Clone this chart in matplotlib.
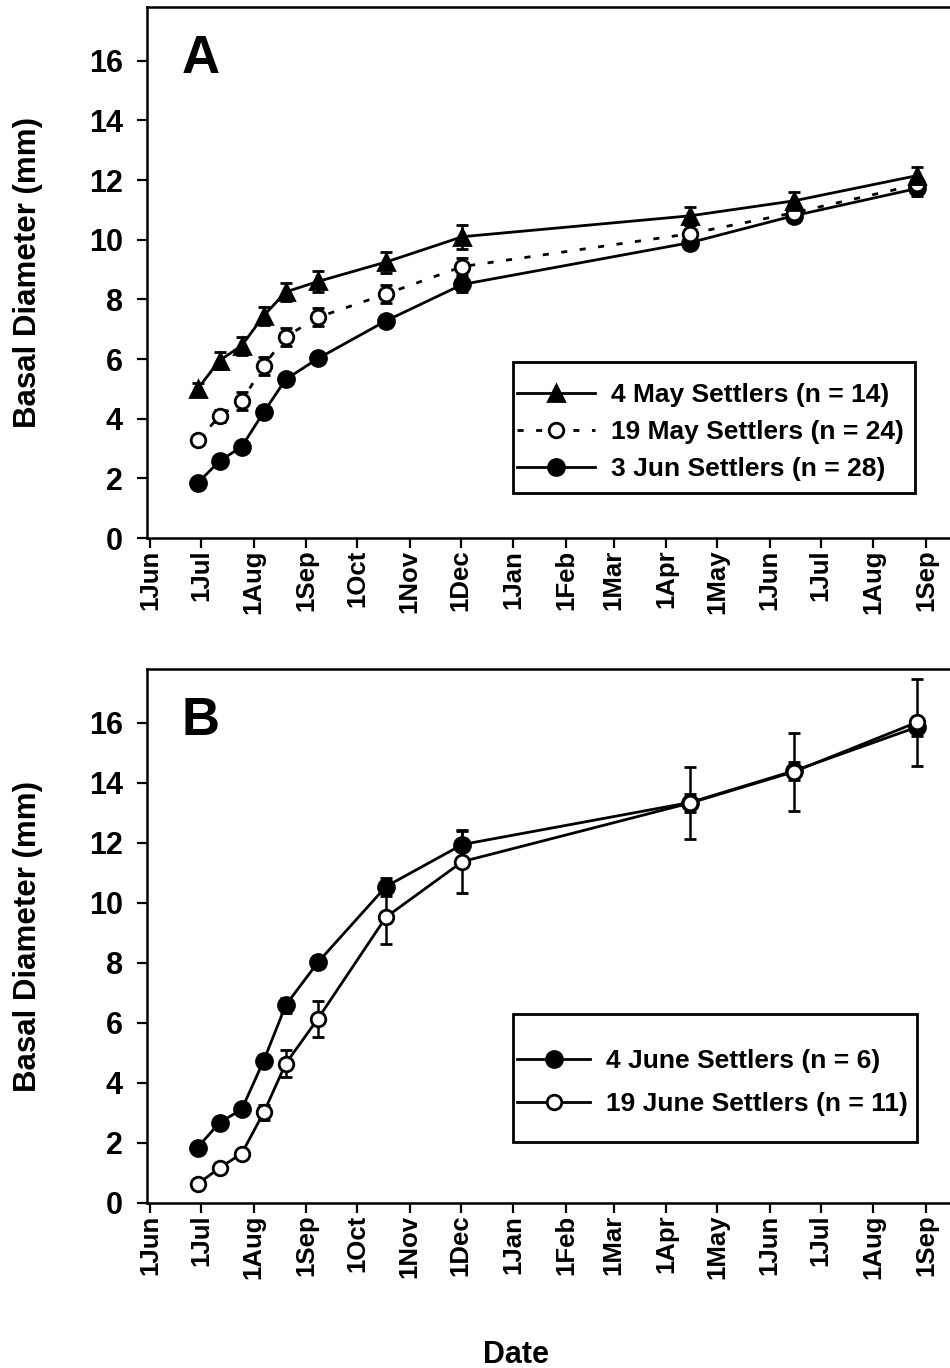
import datetime as dt

import matplotlib as mpl
import matplotlib.pyplot as plt
from matplotlib.lines import Line2D
from matplotlib.patches import Rectangle

mpl.rcParams.update(
    {
        "font.family": ["Liberation Sans", "DejaVu Sans"],
        "font.weight": "bold",
        "axes.linewidth": 1.8,
        "xtick.major.width": 1.6,
        "ytick.major.width": 1.6,
        "xtick.major.size": 7,
        "ytick.major.size": 7,
    }
)

# sampling dates (season 1 = 2001, season 2 = 2002)
DATES = ["2001-06-29", "2001-07-12", "2001-07-25", "2001-08-07", "2001-08-20", "2001-09-08",
         "2001-10-18", "2001-12-02", "2002-04-15", "2002-06-15", "2002-08-27"]

# panel A
MAY4_MEAN = [5.0, 5.95, 6.45, 7.45, 8.25, 8.6, 9.25, 10.1, 10.8, 11.3, 12.15]
MAY4_ERR = [0.2, 0.3, 0.3, 0.3, 0.3, 0.35, 0.35, 0.4, 0.3, 0.3, 0.3]
MAY19_MEAN = [3.28, 4.08, 4.58, 5.78, 6.75, 7.4, 8.18, 9.1, 10.2, 10.9, 11.85]
MAY19_ERR = [0.15, 0.2, 0.3, 0.3, 0.3, 0.3, 0.3, 0.3, 0.3, 0.2, 0.2]
JUN3_MEAN = [1.84, 2.58, 3.06, 4.22, 5.32, 6.02, 7.28, 8.5, 9.9, 10.8, 11.72]
JUN3_ERR = [0.1, 0.1, 0.1, 0.15, 0.15, 0.15, 0.2, 0.25, 0.2, 0.2, 0.25]

# panel B
JUNE4_MEAN = [1.85, 2.68, 3.12, 4.75, 6.6, 8.03, 10.55, 11.95, 13.35, 14.4, 15.87]
JUNE4_ERR = [0.1, 0.1, 0.15, 0.2, 0.25, 0.2, 0.3, 0.45, 0.3, 0.3, 0.3]
JUNE19_MEAN = [0.63, 1.17, 1.65, 3.02, 4.65, 6.15, 9.53, 11.38, 13.33, 14.37, 16.03]
JUNE19_ERR = [0.05, 0.1, 0.1, 0.25, 0.45, 0.6, 0.9, 1.05, 1.2, 1.3, 1.45]

LEGEND_A = ["4 May Settlers (n = 14)", "19 May Settlers (n = 24)", "3 Jun Settlers (n = 28)"]
LEGEND_B = ["4 June Settlers (n = 6)", "19 June Settlers (n = 11)"]

TICK_MONTHS = ["2001-06", "2001-07", "2001-08", "2001-09", "2001-10", "2001-11", "2001-12",
               "2002-01", "2002-02", "2002-03", "2002-04", "2002-05", "2002-06", "2002-07",
               "2002-08", "2002-09"]

x = [dt.datetime.strptime(d, "%Y-%m-%d") for d in DATES]
ticks = [dt.datetime.strptime(m + "-01", "%Y-%m-%d") for m in TICK_MONTHS]
tick_labels = ["1" + t.strftime("%b") for t in ticks]

W, H = 950, 1368
fig = plt.figure(figsize=(W / 100, H / 100), dpi=100)


def px_axes(left, top, right, bottom):
    return fig.add_axes([left / W, 1 - bottom / H, (right - left) / W, (bottom - top) / H])


XLIM = (dt.datetime(2001, 5, 30), dt.datetime(2002, 9, 22))
YLIM = (0, 17.8)

ax_a = px_axes(146.6, 7, 961.6, 538)
ax_b = px_axes(146.6, 669, 961.6, 1203)

common = dict(color="black", linewidth=2.0, elinewidth=1.8, capsize=4.5, capthick=1.8,
              markeredgecolor="black", markeredgewidth=2.0)
DOTS = (2.2, 4.5)

STYLE_MAY4 = dict(marker="^", markersize=11, markerfacecolor="black")
STYLE_MAY19 = dict(marker="o", markersize=10.5, markerfacecolor="white", dashes=DOTS)
STYLE_FILLED = dict(marker="o", markersize=11.5, markerfacecolor="black")
STYLE_OPEN = dict(marker="o", markersize=10.5, markerfacecolor="white")

ax_a.errorbar(x, MAY4_MEAN, yerr=MAY4_ERR, zorder=4, **STYLE_MAY4, **common)
ax_a.errorbar(x, MAY19_MEAN, yerr=MAY19_ERR, zorder=3, **STYLE_MAY19, **common)
ax_a.errorbar(x, JUN3_MEAN, yerr=JUN3_ERR, zorder=2, **STYLE_FILLED, **common)

ax_b.errorbar(x, JUNE4_MEAN, yerr=JUNE4_ERR, zorder=2, **STYLE_FILLED, **common)
ax_b.errorbar(x, JUNE19_MEAN, yerr=JUNE19_ERR, zorder=3, **STYLE_OPEN, **common)

for ax, letter in ((ax_a, "A"), (ax_b, "B")):
    ax.set_xlim(*XLIM)
    ax.set_ylim(*YLIM)
    ax.set_xticks(ticks)
    ax.set_xticklabels(tick_labels, rotation=90, fontsize=18.5, fontweight="bold")
    ax.set_yticks(range(0, 17, 2))
    ax.set_yticklabels([str(v) for v in range(0, 17, 2)], fontsize=22, fontweight="bold")
    ax.tick_params(axis="y", pad=10)
    ax.tick_params(axis="x", pad=1.5)
    ax.set_ylabel("Basal Diameter (mm)", fontsize=22.5, fontweight="bold", labelpad=33)
    ax.text(0.043, 0.876, letter, transform=ax.transAxes, fontsize=38,
            fontweight="bold", va="baseline", ha="left")


def handle(style):
    return Line2D([], [], color="black", linewidth=2.0, markeredgecolor="black",
                  markeredgewidth=2.0, **style)


def boxed_legend(ax, handles, labels, box, anchor, hlen, spacing):
    l, t, r, b = box
    ax.add_patch(Rectangle((l / W, 1 - b / H), (r - l) / W, (b - t) / H, transform=fig.transFigure,
                           facecolor="white", edgecolor="black", linewidth=2.0,
                           clip_on=False, zorder=6))
    leg = ax.legend(handles, labels, loc="upper left",
                    bbox_to_anchor=(anchor[0] / W, 1 - anchor[1] / H), bbox_transform=fig.transFigure,
                    frameon=False, borderpad=0, borderaxespad=0, handlelength=hlen,
                    handletextpad=0.6, labelspacing=spacing, prop={"weight": "bold", "size": 19})
    leg.set_zorder(7)


boxed_legend(ax_a, [handle(STYLE_MAY4), handle(STYLE_MAY19), handle(STYLE_FILLED)], LEGEND_A,
             (513, 362, 915, 493), (517, 383), 2.95, 0.49)
boxed_legend(ax_b, [handle(STYLE_FILLED), handle(STYLE_OPEN)], LEGEND_B,
             (513, 1014, 917, 1142), (517, 1049), 2.77, 0.73)

fig.text(516 / W, 1 - 1355 / H, "Date", fontsize=22, fontweight="bold", ha="center", va="center")

fig.savefig("out.png", dpi=100)
